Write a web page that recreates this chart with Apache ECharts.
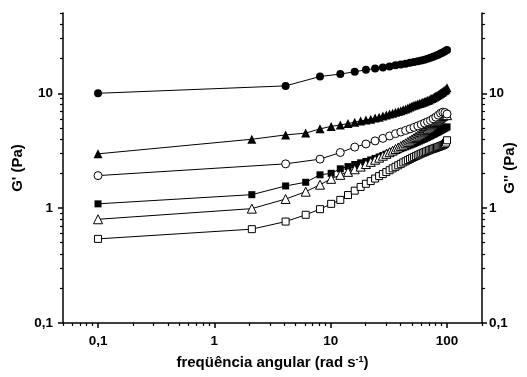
<!DOCTYPE html>
<html>
<head>
<meta charset="utf-8">
<script src="https://cdn.jsdelivr.net/npm/echarts@6/dist/echarts.min.js"></script>
<style>
  html, body { margin: 0; padding: 0; background: #fff; }
  #chart { width: 527px; height: 377px; }
</style>
</head>
<body>
<div id="chart"></div>
<script>
// frequencies (rad/s) - the step-2 and step-4 sweeps
const freqStep2 = [0.1, 2.1, 4.1, 6.1, 8.1, 10.1, 12.1, 14.1, 16.1, 18.1, 20.1, 22.1, 24.1, 26.1, 28.1, 30.1,
  32.1, 34.1, 36.1, 38.1, 40.1, 42.1, 44.1, 46.1, 48.1, 50.1, 52.1, 54.1, 56.1, 58.1, 60.1, 62.1, 64.1,
  66.1, 68.1, 70.1, 72.1, 74.1, 76.1, 78.1, 80.1, 82.1, 84.1, 86.1, 88.1, 90.1, 92.1, 94.1, 96.1, 98.1, 100.1];
const freqStep4 = [0.1, 4.1, 8.1, 12.1, 16.1, 20.1, 24.1, 28.1, 32.1, 36.1, 40.1, 44.1, 48.1, 52.1, 56.1,
  60.1, 64.1, 68.1, 72.1, 76.1, 80.1, 84.1, 88.1, 92.1, 96.1, 100.1];

// moduli (Pa)
const filledCircle = [10.0, 11.6, 14.0, 14.7, 15.4, 16.0, 16.4, 16.8, 17.1, 17.5, 17.8, 18.1, 18.4, 18.7,
  19.0, 19.3, 19.6, 20.0, 20.4, 20.8, 21.2, 21.7, 22.2, 22.7, 23.2, 23.8];
const filledTriangle = [2.97, 3.98, 4.34, 4.5, 4.9, 5.15, 5.3, 5.45, 5.6, 5.75, 5.85, 5.95, 6.1, 6.2, 6.35,
  6.48, 6.6, 6.7, 6.85, 6.95, 7.05, 7.2, 7.3, 7.45, 7.6, 7.75, 7.85, 7.95, 8.05, 8.15, 8.25, 8.35, 8.45,
  8.55, 8.65, 8.75, 8.9, 9.0, 9.15, 9.3, 9.4, 9.55, 9.7, 9.85, 10.0, 10.15, 10.3, 10.5, 10.65, 10.85, 11.2];
const openCircle = [1.92, 2.43, 2.67, 3.05, 3.4, 3.62, 3.85, 4.05, 4.25, 4.45, 4.6, 4.75, 4.9, 5.05, 5.2,
  5.35, 5.5, 5.65, 5.8, 6.0, 6.2, 6.45, 6.7, 6.85, 6.8, 6.6];
const filledSquare = [1.09, 1.31, 1.56, 1.68, 1.95, 2.01, 2.2, 2.3, 2.4, 2.48, 2.55, 2.63, 2.71, 2.79, 2.87,
  2.95, 3.02, 3.09, 3.16, 3.23, 3.3, 3.36, 3.42, 3.48, 3.54, 3.6, 3.66, 3.72, 3.78, 3.84, 3.9, 3.96, 4.02,
  4.08, 4.14, 4.2, 4.26, 4.32, 4.38, 4.44, 4.5, 4.56, 4.62, 4.68, 4.74, 4.8, 4.86, 4.92, 4.98, 5.04, 5.1];
const openTriangle = [0.8, 0.99, 1.2, 1.39, 1.6, 1.8, 1.95, 2.07, 2.18, 2.3, 2.42, 2.53, 2.64, 2.75, 2.86,
  2.97, 3.07, 3.17, 3.27, 3.37, 3.47, 3.57, 3.67, 3.77, 3.87, 3.97, 4.07, 4.17, 4.27, 4.37, 4.47, 4.57,
  4.67, 4.78, 4.9, 5.02, 5.14, 5.26, 5.38, 5.5, 5.62, 5.75, 5.88, 6.0, 6.12, 6.25, 6.35, 6.45, 6.5, 6.5, 6.45];
const openSquare = [0.54, 0.656, 0.764, 0.875, 0.98, 1.09, 1.18, 1.3, 1.42, 1.53, 1.63, 1.72, 1.81, 1.9,
  1.98, 2.06, 2.14, 2.22, 2.29, 2.36, 2.43, 2.5, 2.56, 2.62, 2.68, 2.74, 2.79, 2.84, 2.89, 2.94, 2.99, 3.03,
  3.07, 3.11, 3.15, 3.19, 3.23, 3.26, 3.29, 3.32, 3.35, 3.38, 3.41, 3.44, 3.47, 3.5, 3.53, 3.57, 3.62, 3.72, 3.9];

// tick positions
const xMajor = [0.1, 1, 10, 100];
const xMinor = [0.05, 0.06, 0.07, 0.08, 0.09, 0.2, 0.3, 0.4, 0.5, 0.6, 0.7, 0.8, 0.9, 2, 3, 4, 5, 6, 7, 8, 9,
  20, 30, 40, 50, 60, 70, 80, 90, 200];
const yMajor = [0.1, 1, 10];
const yMinor = [0.2, 0.3, 0.4, 0.5, 0.6, 0.7, 0.8, 0.9, 2, 3, 4, 5, 6, 7, 8, 9, 20, 30, 40, 50];

const font = 'Liberation Sans, Arial, sans-serif';
const commaLabel = (v) => String(v).replace('.', ',');

const gridRect = { left: 63, right: 45, top: 13, bottom: 54, containLabel: false, outerBoundsMode: 'none' };

function deepAssign(base, extra) {
  Object.keys(extra).forEach((k) => {
    if (extra[k] && typeof extra[k] === 'object' && !Array.isArray(extra[k]) && base[k]) {
      base[k] = deepAssign(base[k], extra[k]);
    } else {
      base[k] = extra[k];
    }
  });
  return base;
}

const majorAxis = (extra) => deepAssign({
  type: 'log',
  logBase: 10,
  axisLine: { show: true, onZero: false, lineStyle: { color: '#000', width: 1.5 } },
  axisTick: { show: true, inside: false, length: 5, lineStyle: { color: '#000', width: 1.5 } },
  axisLabel: {
    show: true, color: '#000', fontFamily: font, fontWeight: 'bold', fontSize: 13.5,
    formatter: commaLabel,
  },
  splitLine: { show: false },
  minorTick: { show: false },
  nameMoveOverlap: false,
  nameTextStyle: { color: '#000', fontFamily: font, fontWeight: 'bold', fontSize: 15 },
}, extra);

const minorAxis = (extra) => deepAssign({
  type: 'log',
  logBase: 10,
  axisLine: { show: false, onZero: false },
  axisTick: { show: true, inside: false, length: 3, lineStyle: { color: '#000', width: 1.2 } },
  axisLabel: { show: false },
  splitLine: { show: false },
}, extra);

const toPairs = (xs, ys) => xs.map((x, i) => [x, ys[i]]);

const makeSeries = (name, xs, ys, symbol, filled, size) => ({
  name,
  type: 'line',
  xAxisIndex: 0,
  yAxisIndex: 0,
  data: toPairs(xs, ys),
  symbol,
  symbolSize: size,
  showSymbol: true,
  lineStyle: { color: '#000', width: 1 },
  itemStyle: filled
    ? { color: '#000', borderColor: '#000', borderWidth: 0 }
    : { color: '#fff', borderColor: '#000', borderWidth: 1 },
  emphasis: { disabled: true },
});

const chart = echarts.init(document.getElementById('chart'), null, { renderer: 'canvas' });

const option = {
  animation: false,
  backgroundColor: '#fff',
  grid: [Object.assign({}, gridRect), Object.assign({}, gridRect)],
  xAxis: [
    majorAxis({
      gridIndex: 0, position: 'bottom', min: 0.05, max: 200,
      axisTick: { customValues: xMajor },
      axisLabel: { customValues: xMajor, margin: 11 },
      name: 'freqüência angular (rad s{sup|-1})',
      nameLocation: 'middle',
      nameGap: 32,
      nameTextStyle: { rich: { sup: { fontFamily: font, fontWeight: 'bold', fontSize: 9, color: '#000', verticalAlign: 'top', padding: [0, 0, 7, 0] } } },
    }),
    minorAxis({ gridIndex: 1, position: 'bottom', min: 0.05, max: 200, axisTick: { customValues: xMinor } }),
  ],
  yAxis: [
    majorAxis({
      gridIndex: 0, position: 'left', min: 0.1, max: 50,
      axisTick: { customValues: yMajor },
      axisLabel: { customValues: yMajor, margin: 10 },
      name: "G' (Pa)", nameLocation: 'middle', nameGap: 38, nameRotate: 90,
    }),
    majorAxis({
      gridIndex: 0, position: 'right', min: 0.1, max: 50,
      axisTick: { customValues: yMajor },
      axisLabel: { customValues: yMajor, margin: 7 },
      name: "G'' (Pa)", nameLocation: 'middle', nameGap: 20, nameRotate: 90,
    }),
    minorAxis({ gridIndex: 1, position: 'left', min: 0.1, max: 50, axisTick: { customValues: yMinor } }),
    minorAxis({ gridIndex: 1, position: 'right', min: 0.1, max: 50, axisTick: { customValues: yMinor } }),
  ],
  series: [
    makeSeries('filled circle', freqStep4, filledCircle, 'circle', true, 8),
    makeSeries('filled triangle', freqStep2, filledTriangle, 'triangle', true, 9),
    makeSeries('open square', freqStep2, openSquare, 'rect', false, 7),
    makeSeries('filled square', freqStep2, filledSquare, 'rect', true, 7),
    makeSeries('open triangle', freqStep2, openTriangle, 'triangle', false, 9),
    makeSeries('open circle', freqStep4, openCircle, 'circle', false, 8),
  ],
};

chart.setOption(option);
</script>
</body>
</html>
